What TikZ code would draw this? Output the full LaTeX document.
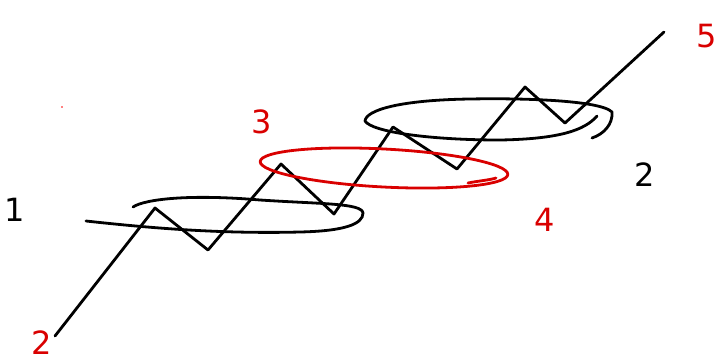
\documentclass[tikz,border=0pt]{standalone}
\usepackage{fontspec}
\setsansfont{DejaVu Sans}
\tikzset{
  ink/.style={line width=2.8pt, line cap=round, line join=round},
  redink/.style={ink, draw=red!85!black},
  digit/.style={font=\fontsize{32}{32}\sffamily, inner sep=0pt},
}
\begin{document}
\begin{tikzpicture}[x=1pt, y=-1pt]
  \useasboundingbox (0,0) rectangle (725,362);
  % Zigzag
  \coordinate (p0) at (55,336);
  \coordinate (p1) at (155,208);
  \coordinate (v1) at (208,250);
  \coordinate (p2) at (281,164);
  \coordinate (v2) at (334,214);
  \coordinate (p3) at (393,127);
  \coordinate (v3) at (457,169);
  \coordinate (p4) at (525,87);
  \coordinate (v4) at (565,123);
  \coordinate (p5) at (664,32);
  \draw[ink] (p0) -- (p1) -- (v1) -- (p2) -- (v2) -- (p3) -- (v3) -- (p4) -- (v4) -- (p5);

  % Lower loop
  \draw[ink] (86,221) .. controls (150,228) and (220,234) .. (300,232)
    .. controls (345,231) and (363,224) .. (363,213)
    .. controls (362,203) and (320,204) .. (260,200)
    .. controls (190,194) and (145,199) .. (133,207);

  % Red loop
  \draw[redink, rotate around={-3:(384,168)}] (384,168) ellipse [x radius=124, y radius=19];
  \draw[redink] (468,183) .. controls (478,181) and (490,180) .. (496,178);

  % Upper loop
  \draw[ink] (592,138) .. controls (604,134) and (613,124) .. (612,112)
    .. controls (600,100) and (520,98) .. (470,99)
    .. controls (400,100) and (366,110) .. (365,121)
    .. controls (372,132) and (430,140) .. (500,140)
    .. controls (560,139) and (585,130) .. (597,116);

  % Labels
  \node[digit] (n1) at (15,210) {1};
  \node[digit] (n2) at (645,175) {2};
  \node[digit, text=red!85!black] (n3) at (262,122) {3};
  \node[digit, text=red!85!black] (n4) at (545,220) {4};
  \node[digit, text=red!85!black] (n5) at (707,36) {5};
  \node[digit, text=red!85!black] (n0) at (42,343) {2};
  \fill[red] (62,107) circle (0.8);
\end{tikzpicture}
\end{document}
